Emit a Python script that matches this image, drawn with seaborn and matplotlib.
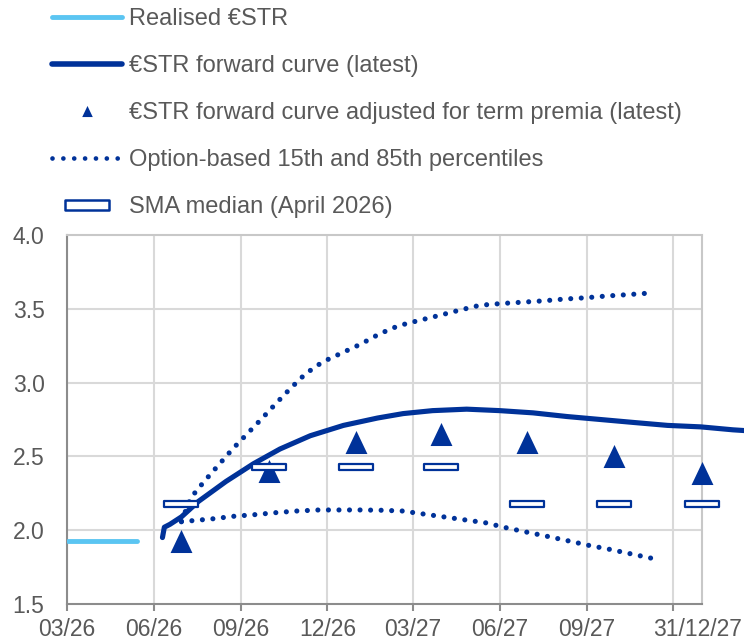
import pandas as pd
import matplotlib.pyplot as plt
from matplotlib.path import Path
from matplotlib.lines import Line2D
from matplotlib.transforms import ScaledTranslation
import seaborn as sns

# Realised €STR
realised_dates = ["2026-03-02", "2026-03-16", "2026-04-01", "2026-04-15", "2026-05-01", "2026-05-14"]
realised_vals = [1.93, 1.93, 1.93, 1.93, 1.93, 1.93]

# €STR forward curve (latest)
fwd_dates = ["2026-06-10", "2026-06-12", "2026-06-18", "2026-06-30", "2026-07-18", "2026-08-16",
             "2026-09-14", "2026-10-12", "2026-11-13", "2026-12-18", "2027-01-23", "2027-02-19",
             "2027-03-22", "2027-04-27", "2027-06-01", "2027-07-06", "2027-08-11", "2027-09-15",
             "2027-10-20", "2027-11-25", "2027-12-30", "2028-02-02", "2028-02-14"]
fwd_vals = [1.95, 2.02, 2.04, 2.09, 2.195, 2.33,
            2.45, 2.55, 2.64, 2.71, 2.76, 2.79,
            2.81, 2.82, 2.81, 2.795, 2.77, 2.75,
            2.73, 2.71, 2.70, 2.68, 2.675]

# option-based 85th percentile
p85_dates = ["2026-06-30", "2026-07-10", "2026-07-24", "2026-08-08", "2026-08-23", "2026-09-07",
             "2026-09-22", "2026-10-08", "2026-10-23", "2026-11-08", "2026-11-26", "2026-12-16",
             "2027-01-05", "2027-01-25", "2027-02-14", "2027-03-07", "2027-03-29", "2027-04-19",
             "2027-05-11", "2027-06-03", "2027-06-25", "2027-07-17", "2027-08-08", "2027-08-31",
             "2027-09-22", "2027-10-14", "2027-11-05"]
p85_vals = [2.06, 2.22, 2.33, 2.44, 2.55, 2.65,
            2.75, 2.86, 2.96, 3.06, 3.14, 3.20,
            3.26, 3.33, 3.385, 3.42, 3.455, 3.49,
            3.524, 3.536, 3.545, 3.554, 3.566, 3.575,
            3.587, 3.596, 3.606]

# option-based 15th percentile
p15_dates = ["2026-06-30", "2026-07-11", "2026-08-02", "2026-08-24", "2026-09-15", "2026-10-08",
             "2026-10-30", "2026-11-22", "2026-12-14", "2027-01-05", "2027-01-27", "2027-02-18",
             "2027-03-12", "2027-04-03", "2027-04-25", "2027-05-17", "2027-06-08", "2027-06-30",
             "2027-07-22", "2027-08-12", "2027-09-03", "2027-09-25", "2027-10-17", "2027-11-08"]
p15_vals = [2.057, 2.064, 2.077, 2.094, 2.105, 2.119,
            2.13, 2.137, 2.137, 2.137, 2.135, 2.13,
            2.11, 2.09, 2.07, 2.05, 2.016, 1.986,
            1.957, 1.928, 1.897, 1.87, 1.84, 1.81]

# quarterly markers
quarter_dates = ["2026-06-30", "2026-09-30", "2026-12-31", "2027-03-31",
                 "2027-06-30", "2027-09-30", "2027-12-31"]
adj_vals = [1.93, 2.40, 2.60, 2.65, 2.60, 2.50, 2.39]
sma_vals = [2.18, 2.43, 2.43, 2.43, 2.18, 2.18, 2.18]

x_ticks = ["2026-03-01", "2026-06-01", "2026-09-01", "2026-12-01",
           "2027-03-01", "2027-06-01", "2027-09-01", "2027-12-01"]
x_labels = ["03/26", "06/26", "09/26", "12/26", "03/27", "06/27", "09/27", ""]
y_ticks = [1.5, 2.0, 2.5, 3.0, 3.5, 4.0]
y_labels = ["1.5", "2.0", "2.5", "3.0", "3.5", "4.0"]

labels = ["Realised €STR",
          "€STR forward curve (latest)",
          "€STR forward curve adjusted for term premia (latest)",
          "Option-based 15th and 85th percentiles",
          "SMA median (April 2026)"]

BLUE = "#003299"
LIGHT = "#5BC5F2"
GREY = "#595959"
SPINE = "#8C8C8C"
GRID = "#D9D9D9"
DOTS = (0, (0.001, 2.05))

sns.set_theme(style="white")
plt.rcParams['font.family'] = ['Liberation Sans', 'DejaVu Sans']

fig = plt.figure(figsize=(7.44, 6.43), dpi=100)
ax = fig.add_axes([0.0897, 0.0607, 0.8534, 0.5738])

tri = Path([(0, 1), (-0.95, -1), (0.95, -1), (0, 1)],
           [Path.MOVETO, Path.LINETO, Path.LINETO, Path.CLOSEPOLY])
rect = Path([(-1, -0.2), (1, -0.2), (1, 0.2), (-1, 0.2), (-1, -0.2)],
            [Path.MOVETO, Path.LINETO, Path.LINETO, Path.LINETO, Path.CLOSEPOLY])
rect_leg = Path([(-1, -0.24), (1, -0.24), (1, 0.24), (-1, 0.24), (-1, -0.24)],
                [Path.MOVETO, Path.LINETO, Path.LINETO, Path.LINETO, Path.CLOSEPOLY])

# grid
for v in y_ticks[1:-1]:
    ax.axhline(v, color=GRID, lw=1.5, zorder=0)
ax.grid(axis="x", color=GRID, lw=1.5)
ax.set_axisbelow(True)

sns.lineplot(x=pd.to_datetime(realised_dates), y=realised_vals, color=LIGHT,
             linewidth=3.5, solid_capstyle="round", ax=ax, zorder=3)
sns.lineplot(x=pd.to_datetime(fwd_dates), y=fwd_vals, color=BLUE,
             linewidth=3.7, solid_capstyle="round", clip_on=False, ax=ax, zorder=3)
sns.lineplot(x=pd.to_datetime(p85_dates), y=p85_vals, color=BLUE, linewidth=3.7,
             linestyle=DOTS, dash_capstyle="round", ax=ax, zorder=3)
sns.lineplot(x=pd.to_datetime(p15_dates), y=p15_vals, color=BLUE, linewidth=3.7,
             linestyle=DOTS, dash_capstyle="round", ax=ax, zorder=3)
sns.scatterplot(x=pd.to_datetime(quarter_dates), y=adj_vals, marker=tri, s=16.6 ** 2,
                color=BLUE, linewidth=0, clip_on=False, ax=ax, zorder=4)
sns.scatterplot(x=pd.to_datetime(quarter_dates), y=sma_vals, marker=rect, s=24 ** 2,
                color="white", edgecolor=BLUE, linewidth=1.6, clip_on=False, ax=ax, zorder=5)

ax.set_xlim(pd.Timestamp("2026-03-01"), pd.Timestamp("2027-12-31"))
ax.set_ylim(1.5, 4.0)
ax.set_xlabel("")
ax.set_ylabel("")

ax.set_xticks(pd.to_datetime(x_ticks))
ax.set_xticklabels(x_labels)
ax.set_xticks([pd.Timestamp("2027-12-31")], minor=True)
ax.set_xticklabels(["31/12/27"], minor=True)
ax.set_yticks(y_ticks)
ax.set_yticklabels(y_labels)

ax.tick_params(axis="x", which="major", bottom=True, length=5, width=1.5, color=SPINE,
               pad=5, labelsize=16.5, labelcolor=GREY)
ax.tick_params(axis="x", which="minor", bottom=True, length=0, pad=10,
               labelsize=16.5, labelcolor=GREY)
ax.tick_params(axis="y", left=False, length=0, pad=16, labelsize=16.5, labelcolor=GREY)
for lab in ax.xaxis.get_minorticklabels():
    lab.set_transform(lab.get_transform() + ScaledTranslation(-4 / 100, 0, fig.dpi_scale_trans))

for side in ["left", "bottom"]:
    ax.spines[side].set_color(SPINE)
    ax.spines[side].set_linewidth(1.5)
for side in ["top", "right"]:
    ax.spines[side].set_color("#C8C8C8")
    ax.spines[side].set_linewidth(1.5)
    ax.spines[side].set_linestyle((0, (1, 1)))

handles = [
    Line2D([], [], color=LIGHT, lw=3.5, solid_capstyle="round"),
    Line2D([], [], color=BLUE, lw=4, solid_capstyle="round"),
    Line2D([], [], ls="none", marker=tri, markersize=8, color=BLUE, markeredgewidth=0),
    Line2D([], [], color=BLUE, lw=3.4, ls=(0, (0.001, 2.3)), dash_capstyle="round"),
    Line2D([], [], ls="none", marker=rect_leg, markersize=32, markerfacecolor="white",
           markeredgecolor=BLUE, markeredgewidth=1.8),
]
fig.legend(handles, labels, loc="upper left", bbox_to_anchor=(52 / 744, 1 - 8 / 643),
           frameon=False, fontsize=17, labelcolor=GREY, handlelength=2.95,
           handletextpad=0.3, labelspacing=1.06, borderpad=0, borderaxespad=0)

fig.savefig("out.png", dpi=100)
